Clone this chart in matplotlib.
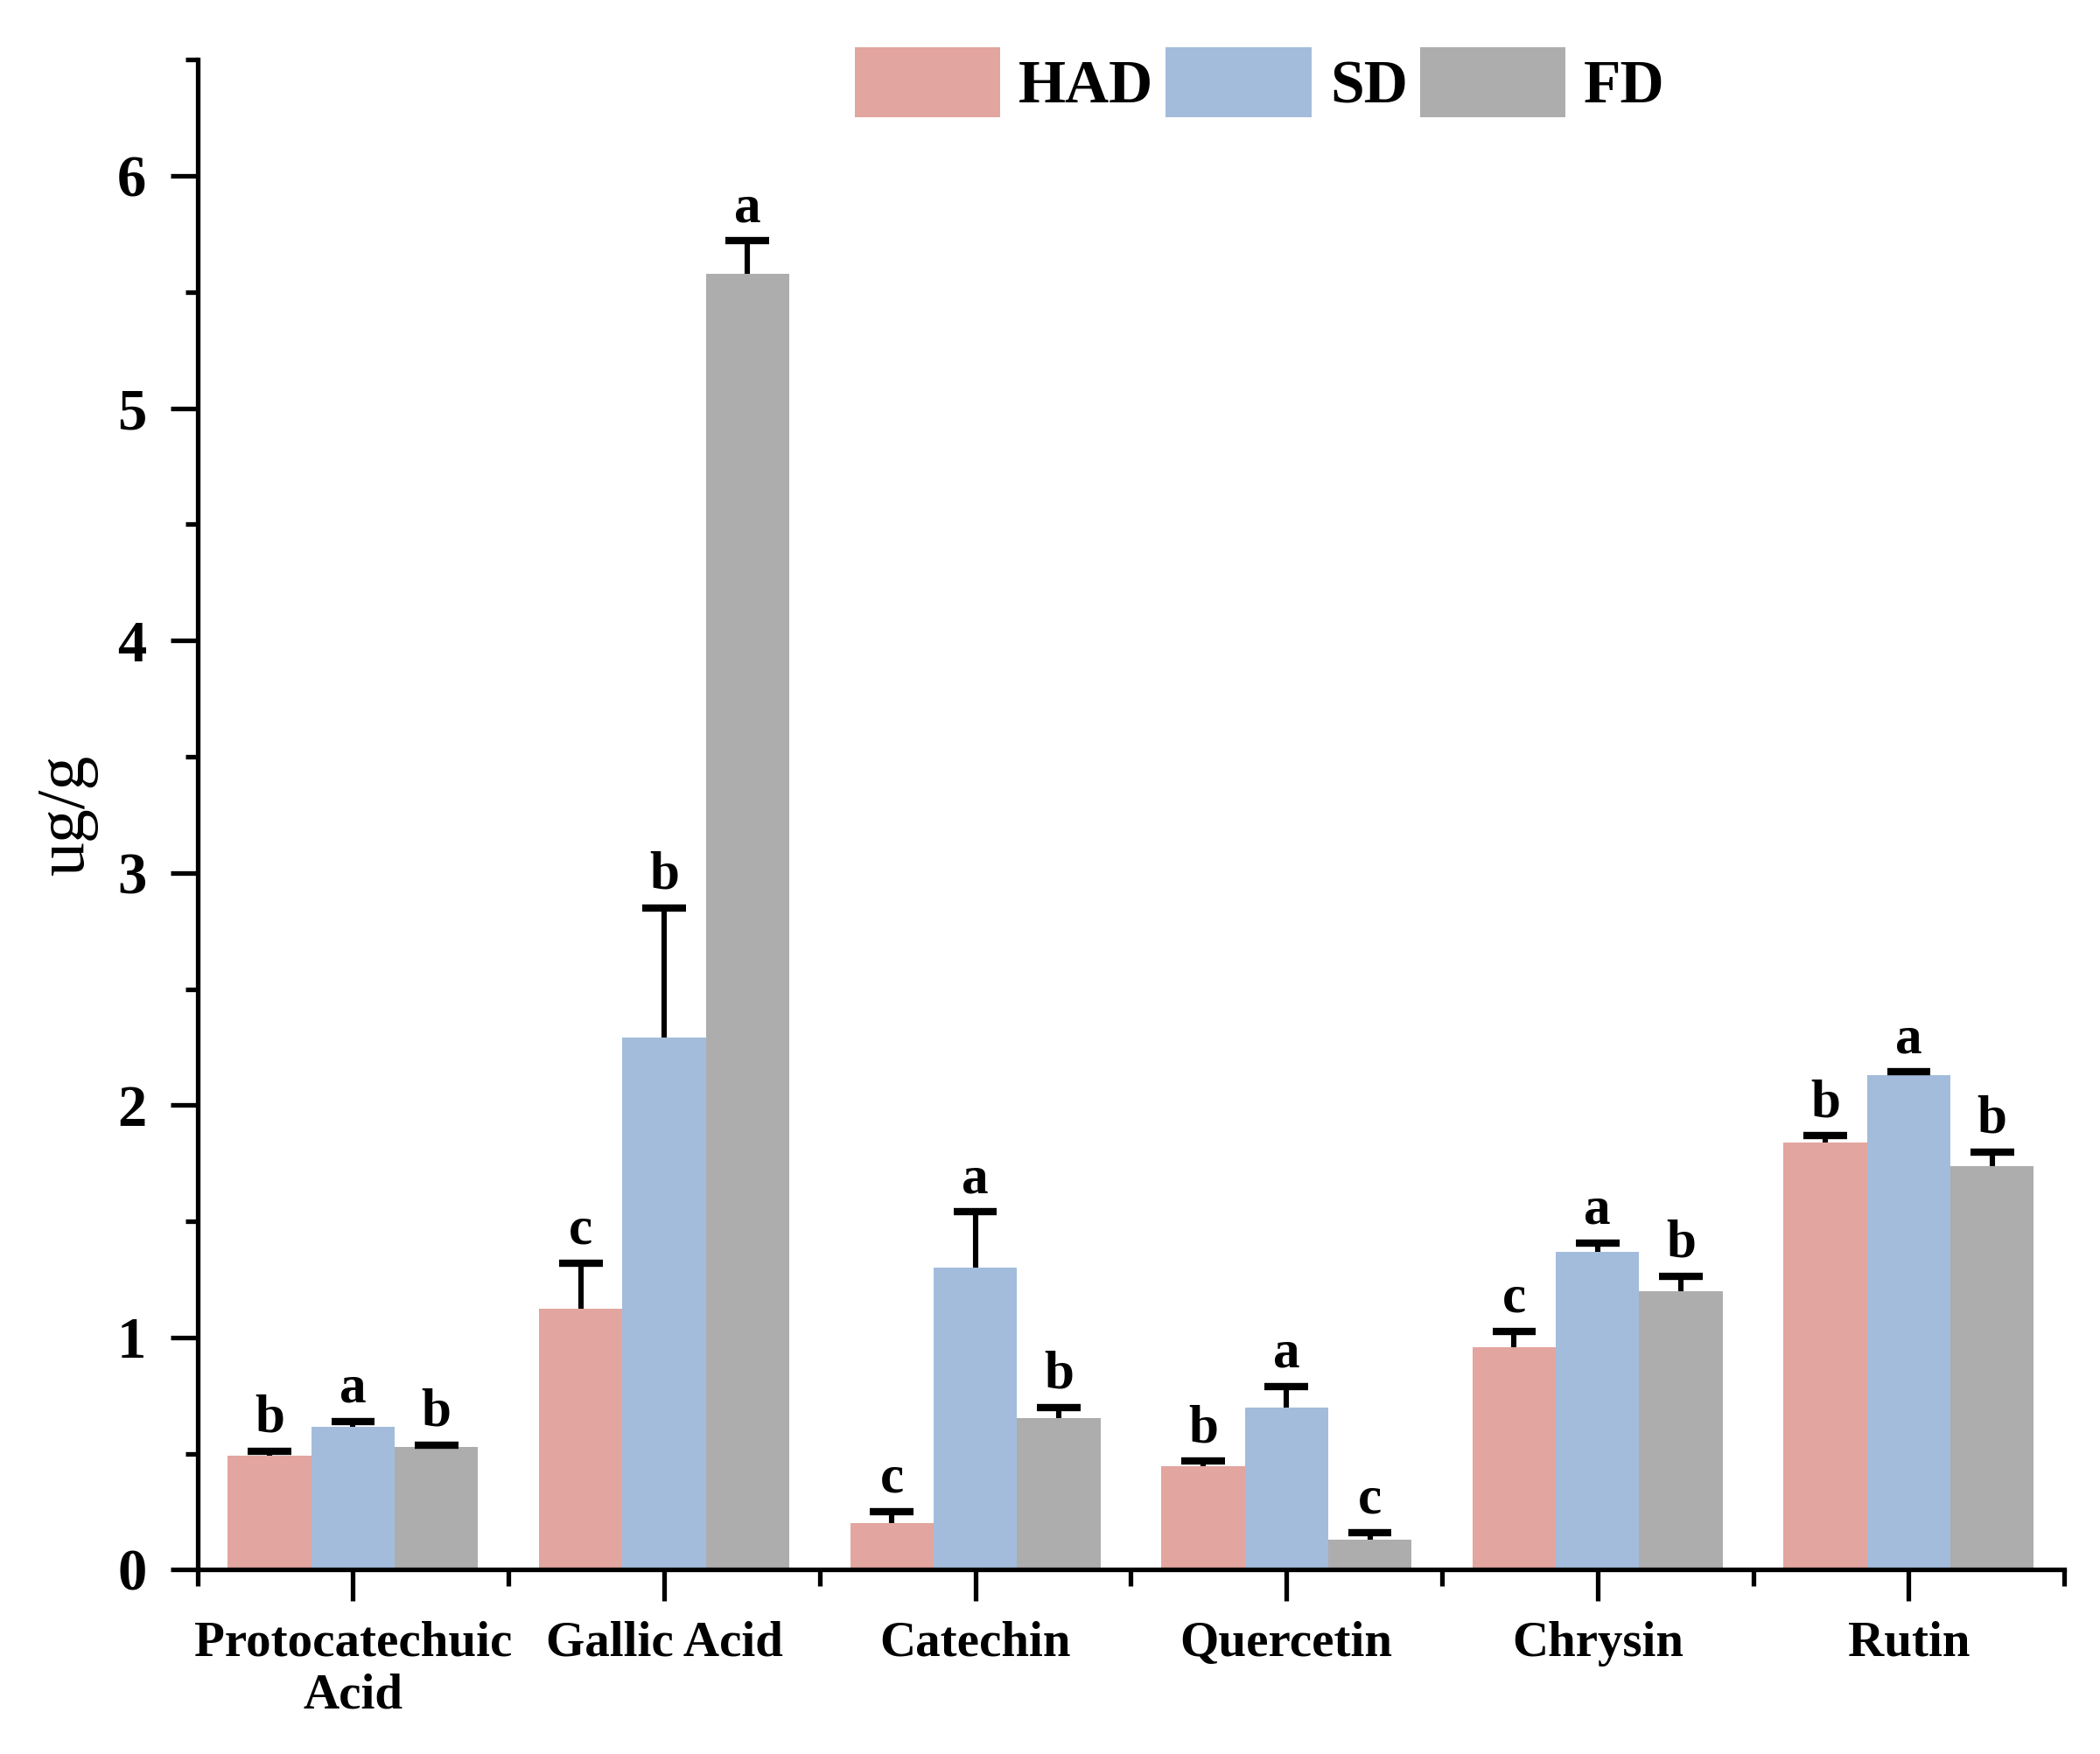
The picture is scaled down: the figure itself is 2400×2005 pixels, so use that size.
import numpy as np
import matplotlib.pyplot as plt
from matplotlib.ticker import MultipleLocator, FixedLocator

plt.rcParams['font.family'] = ['Liberation Serif', 'DejaVu Serif']

compounds = ['Protocatechuic\nAcid', 'Gallic Acid', 'Catechin', 'Quercetin', 'Chrysin', 'Rutin']
groups = ['HAD', 'SD', 'FD']

had = [0.49, 1.125, 0.20, 0.447, 0.957, 1.838]
sd = [0.615, 2.29, 1.30, 0.70, 1.368, 2.128]
fd = [0.53, 5.58, 0.655, 0.128, 1.20, 1.739]

had_err = [0.02, 0.195, 0.05, 0.02, 0.07, 0.03]
sd_err = [0.025, 0.56, 0.24, 0.09, 0.04, 0.015]
fd_err = [0.008, 0.14, 0.045, 0.032, 0.064, 0.058]

had_sig = ['b', 'c', 'c', 'b', 'c', 'b']
sd_sig = ['a', 'b', 'a', 'a', 'a', 'a']
fd_sig = ['b', 'a', 'b', 'c', 'b', 'b']

colors = ['#E3A59F', '#A3BCDB', '#ADADAD']

fig = plt.figure(figsize=(12, 10.025), dpi=200)
ax = fig.add_axes([0.094, 0.105, 0.889, 0.861])

x = np.arange(len(compounds))
w = 0.268
cap = 0.07
series = [(had, had_err, had_sig), (sd, sd_err, sd_sig), (fd, fd_err, fd_sig)]

for i, (vals, errs, sigs) in enumerate(series):
    pos = x + (i - 1) * w
    vals = np.array(vals)
    errs = np.array(errs)
    ax.bar(pos, vals, width=w, color=colors[i], label=groups[i], zorder=2)
    # only the upper half of the error bar, like the original
    ax.vlines(pos, vals, vals + errs, color='black', linewidth=2.2, zorder=3)
    ax.hlines(vals + errs, pos - cap, pos + cap, color='black', linewidth=3, zorder=3)
    for p, v, e, s in zip(pos, vals, errs, sigs):
        ax.text(p, v + e + 0.035, s, ha='center', va='bottom',
                fontsize=22, fontweight='bold')

ax.set_xlim(-0.5, 5.5)
ax.set_ylim(0, 6.5)

ax.spines['top'].set_visible(False)
ax.spines['right'].set_visible(False)
ax.spines['left'].set_linewidth(1.9)
ax.spines['bottom'].set_linewidth(1.9)

ax.yaxis.set_major_locator(MultipleLocator(1))
ax.yaxis.set_minor_locator(MultipleLocator(0.5))
ax.set_xticks(x)
ax.set_xticklabels(compounds, fontsize=20.5, fontweight='bold')
ax.xaxis.set_minor_locator(FixedLocator(np.arange(-0.5, 5.6, 1.0)))

ax.tick_params(axis='y', which='major', length=11, width=1.9, labelsize=24, pad=10)
ax.tick_params(axis='y', which='minor', length=5, width=1.9)
ax.tick_params(axis='x', which='major', length=13, width=1.9, pad=8)
ax.tick_params(axis='x', which='minor', length=7, width=1.9)
for lab in ax.get_yticklabels():
    lab.set_fontweight('bold')

ax.set_ylabel('ug/g', fontsize=28, labelpad=8)

fig.legend(loc='upper left', bbox_to_anchor=(0.407, 0.973), ncol=3, frameon=False,
           prop={'size': 25, 'weight': 'bold'}, handlelength=2.4, handleheight=1.4,
           handletextpad=0.3, columnspacing=0.2, borderpad=0, borderaxespad=0)

fig.savefig('out.png', dpi=200)
